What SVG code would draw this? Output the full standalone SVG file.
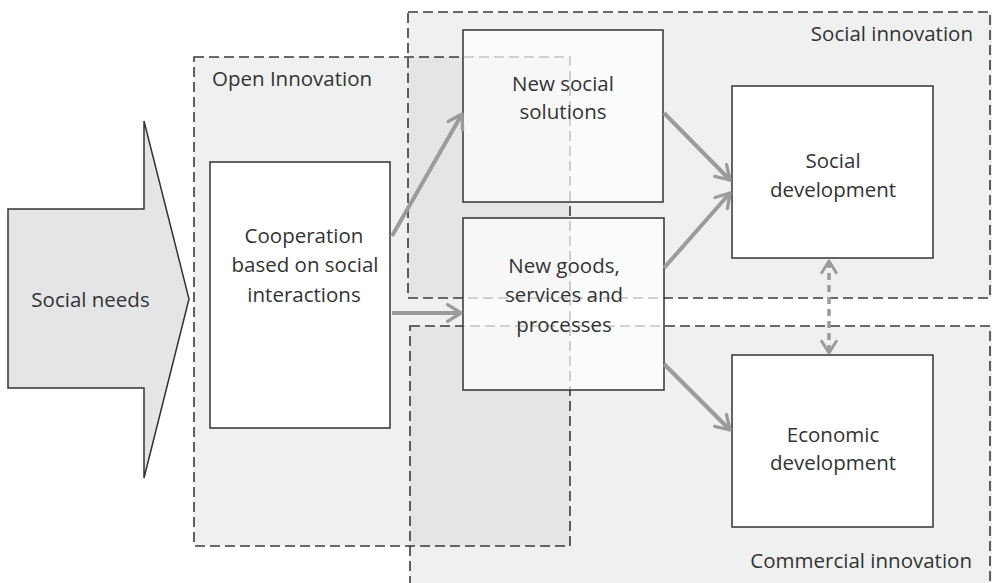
<svg xmlns="http://www.w3.org/2000/svg" width="992" height="583" viewBox="0 0 992 583">
<style>
.region{fill:#eff0f0;stroke:none}
.overlap{fill:#e4e5e7;stroke:none}
.dash{fill:none;stroke:#3a3a3a;stroke-width:1.6;stroke-dasharray:10 5}
.box{fill:#fff;stroke:#333;stroke-width:1.5}
.tbox{fill:#fff;fill-opacity:0.7;stroke:#333;stroke-width:1.5}
.lbl{font-family:"Open Sans","Noto Sans",sans-serif;font-size:20.5px;fill:#333}
.c{text-anchor:middle}
.arr{fill:none;stroke:#9a9b9d;stroke-width:4;marker-end:url(#ah)}
.darr{fill:none;stroke:#9a9b9d;stroke-width:3.5;stroke-dasharray:7 5;marker-end:url(#ah2);marker-start:url(#ah2s)}
</style>
<defs>
<marker id="ah" viewBox="0 0 12 12" refX="10" refY="6" markerWidth="5" markerHeight="5" orient="auto" markerUnits="strokeWidth">
<path d="M2,1 L10,6 L2,11" fill="none" stroke="#9a9b9d" stroke-width="2" stroke-linecap="round" stroke-linejoin="round"/>
</marker>
<marker id="ah2" viewBox="0 0 12 12" refX="10" refY="6" markerWidth="5" markerHeight="5" orient="auto" markerUnits="strokeWidth">
<path d="M2,1 L10,6 L2,11" fill="none" stroke="#9a9b9d" stroke-width="2" stroke-linecap="round" stroke-linejoin="round"/>
</marker>
<marker id="ah2s" viewBox="0 0 12 12" refX="2" refY="6" markerWidth="5" markerHeight="5" orient="auto" markerUnits="strokeWidth">
<path d="M10,1 L2,6 L10,11" fill="none" stroke="#9a9b9d" stroke-width="2" stroke-linecap="round" stroke-linejoin="round"/>
</marker>
</defs>

<g id="regions">
<rect class="region" x="408" y="12" width="590" height="286"/>
<rect class="region" x="410" y="326" width="590" height="270"/>
<rect class="region" x="194" y="57" width="376" height="489"/>
<rect class="overlap" x="408" y="57" width="162" height="241"/>
<rect class="overlap" x="410" y="326" width="160" height="220"/>
<rect class="dash" x="408" y="12" width="582" height="286"/>
<rect class="dash" x="410" y="326" width="580" height="270"/>
<rect class="dash" x="194" y="57" width="376" height="489"/>
<text class="lbl" x="973" y="41" text-anchor="end">Social innovation</text>
<text class="lbl" x="972" y="568" text-anchor="end">Commercial innovation</text>
<text class="lbl" x="212" y="86">Open Innovation</text>
</g>

<g id="social-needs">
<polygon points="8,209 144,209 144,121 189,299 144,478 144,388 8,388" fill="#e4e5e7" stroke="#333" stroke-width="1.5"/>
<text class="lbl c" x="90.5" y="307">Social needs</text>
</g>

<g id="cooperation">
<rect class="box" x="210" y="162" width="180" height="266"/>
<text class="lbl c" x="304" y="243">Cooperation</text>
<text class="lbl c" x="305" y="272">based on social</text>
<text class="lbl c" x="304" y="302">interactions</text>
</g>

<g id="new-social-solutions">
<rect class="tbox" x="463" y="30" width="200" height="172"/>
<text class="lbl c" x="563" y="91">New social</text>
<text class="lbl c" x="563" y="119">solutions</text>
</g>

<g id="new-goods">
<rect class="tbox" x="463" y="218" width="201" height="172"/>
<text class="lbl c" x="564" y="273">New goods,</text>
<text class="lbl c" x="564" y="302">services and</text>
<text class="lbl c" x="564" y="332">processes</text>
</g>

<g id="social-development">
<rect class="box" x="732" y="86" width="201" height="172"/>
<text class="lbl c" x="833" y="168">Social</text>
<text class="lbl c" x="833" y="197">development</text>
</g>

<g id="economic-development">
<rect class="box" x="732" y="355" width="201" height="172"/>
<text class="lbl c" x="833" y="442">Economic</text>
<text class="lbl c" x="833" y="470">development</text>
</g>

<g id="connectors">
<line class="arr" x1="392" y1="236" x2="462" y2="114"/>
<line class="arr" x1="392" y1="313" x2="461" y2="313"/>
<line class="arr" x1="664" y1="113" x2="730" y2="180"/>
<line class="arr" x1="664" y1="268" x2="730" y2="193"/>
<line class="arr" x1="664" y1="364" x2="730" y2="430"/>
<line class="darr" x1="829" y1="261" x2="829" y2="353"/>
</g>
</svg>
